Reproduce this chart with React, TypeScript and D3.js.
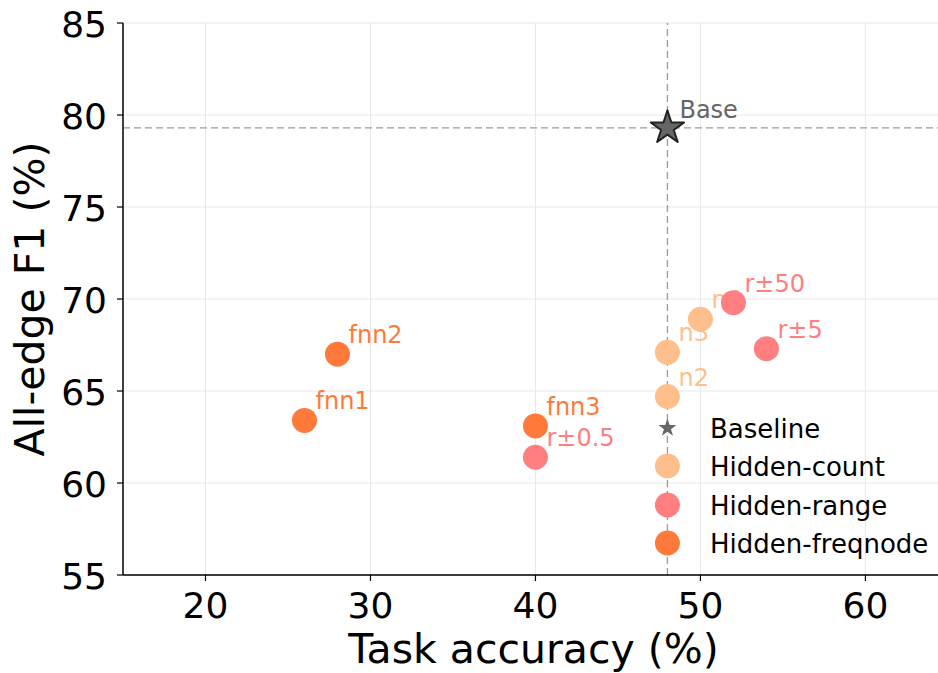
import React from "react";
import * as d3 from "d3";

const W = 938, H = 673;
const margin = { left: 123, right: 0, top: 23, bottom: 98 };

const xTicks = [20, 30, 40, 50, 60];
const yTicks = [55, 60, 65, 70, 75, 80, 85];

const baseline = { x: 48, y: 79.3, label: "Base" };

const countLabels = ["n2", "n3", "n4"];
const countX = [48, 48, 50];
const countY = [64.7, 67.1, 68.9];

const rangeLabels = ["r±50", "r±5", "r±0.5"];
const rangeX = [52, 54, 40];
const rangeY = [69.8, 67.3, 61.4];

const freqLabels = ["fnn1", "fnn2", "fnn3"];
const freqX = [26, 28, 40];
const freqY = [63.4, 67.0, 63.1];

const legendLabels = ["Baseline", "Hidden-count", "Hidden-range", "Hidden-freqnode"];

const COL_COUNT = "#ffbf8c";
const COL_RANGE = "#ff7f80";
const COL_FREQ = "#ff7a3a";
const COL_BASE = "#666666";

const FONT = "'DejaVu Sans', sans-serif";

function starPath(cx: number, cy: number, R: number, r: number) {
  const pts: string[] = [];
  for (let i = 0; i < 10; i++) {
    const rad = i % 2 === 0 ? R : r;
    const a = -Math.PI / 2 + (i * Math.PI) / 5;
    pts.push(`${cx + rad * Math.cos(a)},${cy + rad * Math.sin(a)}`);
  }
  return "M" + pts.join("L") + "Z";
}

export default function App() {
  const x = d3.scaleLinear().domain([15, 64.4]).range([margin.left, W - margin.right]);
  const y = d3.scaleLinear().domain([55, 85]).range([H - margin.bottom, margin.top]);
  const x0 = margin.left, x1 = W - margin.right, y0 = H - margin.bottom, y1 = margin.top;

  const series = [
    { labels: countLabels, xs: countX, ys: countY, color: COL_COUNT },
    { labels: rangeLabels, xs: rangeX, ys: rangeY, color: COL_RANGE },
    { labels: freqLabels, xs: freqX, ys: freqY, color: COL_FREQ },
  ];

  const legendY = [428, 466, 505, 543];
  const legendColors = [COL_BASE, COL_COUNT, COL_RANGE, COL_FREQ];

  return (
    <svg width={W} height={H} style={{ position: "absolute", left: 0, top: 0, background: "#fff" }} fontFamily={FONT}>
      <rect width={W} height={H} fill="#fff" />
      {/* grid */}
      {xTicks.map((t) => (
        <line key={"gx" + t} x1={x(t)} x2={x(t)} y1={y0} y2={y1} stroke="#e8e8e8" strokeWidth={1} />
      ))}
      {yTicks.map((t) => (
        <line key={"gy" + t} x1={x0} x2={x1} y1={y(t)} y2={y(t)} stroke="#e8e8e8" strokeWidth={1} />
      ))}
      {/* baseline reference lines */}
      <line x1={x(baseline.x)} x2={x(baseline.x)} y1={y0} y2={y1} stroke="#9a9a9a" strokeWidth={1.3} strokeDasharray="7,4" />
      <line x1={x0} x2={x1} y1={y(baseline.y)} y2={y(baseline.y)} stroke="#9a9a9a" strokeWidth={1.3} strokeDasharray="7,4" />

      {/* labels first */}
      {series.map((s) =>
        s.labels.map((lab, i) => (
          <text key={lab} x={x(s.xs[i]) + 11} y={y(s.ys[i]) - 11} fontSize={24} fill={s.color}>
            {lab}
          </text>
        ))
      )}
      <text x={x(baseline.x) + 12} y={y(baseline.y) - 10} fontSize={24} fill={COL_BASE}>
        {baseline.label}
      </text>

      {/* points */}
      {series.map((s) =>
        s.xs.map((xv, i) => (
          <circle key={s.labels[i] + "c"} cx={x(xv)} cy={y(s.ys[i])} r={12.5} fill={s.color} />
        ))
      )}
      <path d={starPath(x(baseline.x), y(baseline.y), 17.5, 6.7)} fill={COL_BASE} stroke="#222" strokeWidth={2} strokeLinejoin="round" />

      {/* legend */}
      {legendLabels.map((lab, i) => (
        <g key={lab}>
          {i === 0 ? (
            <path d={starPath(x(baseline.x), legendY[i], 9.5, 3.7)} fill={COL_BASE} />
          ) : (
            <circle cx={x(baseline.x)} cy={legendY[i]} r={12.5} fill={legendColors[i]} />
          )}
          <text x={710} y={legendY[i] + 9.5} fontSize={26} fill="#000">
            {lab}
          </text>
        </g>
      ))}

      {/* axes */}
      <line x1={x0} x2={x0} y1={y0} y2={y1} stroke="#000" strokeWidth={1.5} />
      <line x1={x0} x2={x1} y1={y0} y2={y0} stroke="#000" strokeWidth={1.5} />
      {xTicks.map((t) => (
        <g key={"xt" + t}>
          <line x1={x(t)} x2={x(t)} y1={y0} y2={y0 + 6} stroke="#000" strokeWidth={1.2} />
          <text x={x(t)} y={y0 + 43} fontSize={36} textAnchor="middle" fill="#000">
            {t}
          </text>
        </g>
      ))}
      {yTicks.map((t) => (
        <g key={"yt" + t}>
          <line x1={x0 - 6} x2={x0} y1={y(t)} y2={y(t)} stroke="#000" strokeWidth={1.2} />
          <text x={x0 - 16} y={y(t) + 13.5} fontSize={36} textAnchor="end" fill="#000">
            {t}
          </text>
        </g>
      ))}
      <text x={(x0 + x1) / 2 + 3} y={663} fontSize={41} textAnchor="middle" fill="#000">
        Task accuracy (%)
      </text>
      <text transform={`translate(44,${(y0 + y1) / 2}) rotate(-90)`} fontSize={41} textAnchor="middle" fill="#000">
        All-edge F1 (%)
      </text>
    </svg>
  );
}
